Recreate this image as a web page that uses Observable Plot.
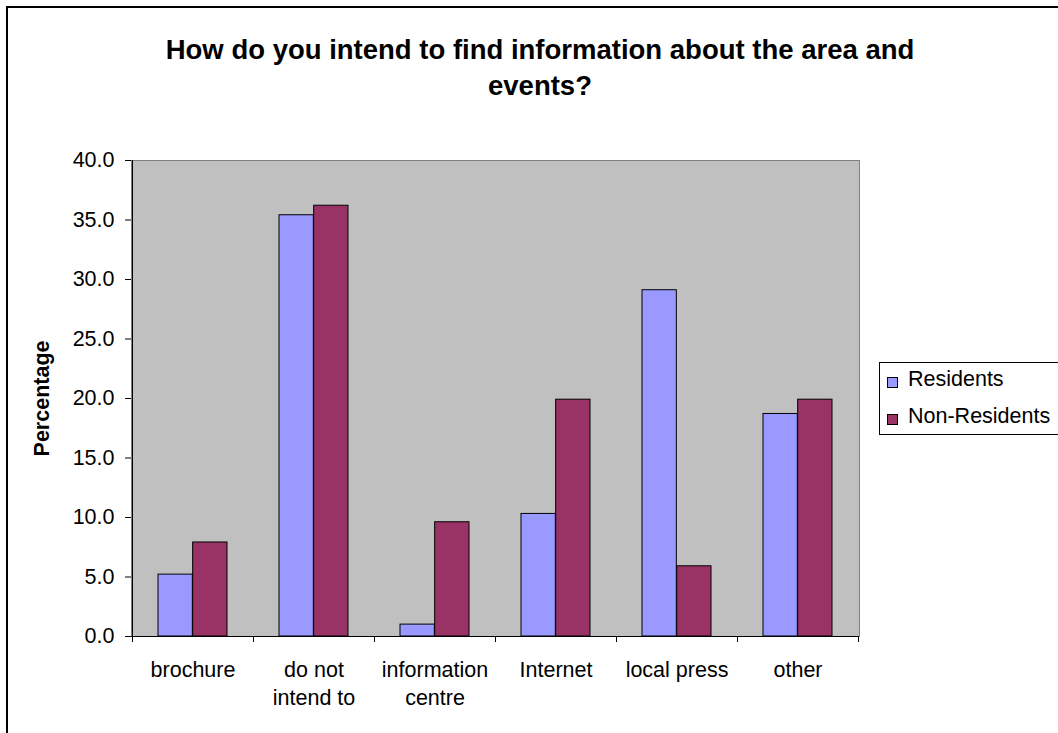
<!DOCTYPE html>
<html><head><meta charset="utf-8">
<script src="https://cdn.jsdelivr.net/npm/d3@7"></script>
<script src="https://cdn.jsdelivr.net/npm/@observablehq/plot@0.6"></script>
<style>
body{margin:0;width:1058px;height:733px;overflow:hidden;background:#fff;font-family:"Liberation Sans",Arial,sans-serif;position:relative}
#border{position:absolute;left:6px;top:6px;width:1100px;height:800px;border:2px solid #000;box-sizing:border-box}
#title{position:absolute;left:0;width:1080px;top:32px;text-align:center;font-weight:bold;font-size:27.5px;line-height:36px;color:#000}
#chart{position:absolute;left:0;top:110px}
#legend{position:absolute;left:879px;top:362px;width:200px;height:73px;border:1px solid #000;background:#fff;box-sizing:border-box}
.item{position:absolute;left:7px;font-size:21.5px;line-height:24px;white-space:nowrap;color:#000}
.sw{display:inline-block;width:9px;height:9px;border:1px solid #000;margin-right:10px;vertical-align:-2px}
</style></head>
<body>
<div id="border"></div>
<div id="title">How do you intend to find information about the area and<br>events?</div>
<div id="chart"></div>
<div id="legend"></div>
<script>
const categories = ["brochure", "do not intend to", "information centre", "Internet", "local press", "other"];
const categoryLabels = ["brochure", "do not\nintend to", "information\ncentre", "Internet", "local press", "other"];
const series = ["Residents", "Non-Residents"];
const residents = [5.2, 35.4, 1.0, 10.3, 29.1, 18.7];
const nonResidents = [7.9, 36.2, 9.6, 19.9, 5.9, 19.9];
const colors = ["#9999FF", "#993366"];
const yTicks = [0, 5, 10, 15, 20, 25, 30, 35, 40];

const W = 1058, H = 623, mL = 131, mR = 199, mT = 50, mB = 97;
const bw = (W - mL - mR) / categories.length;
const outerInset = 26;
const FS = 21.5;

const resData = categories.map((c, i) => ({category: c, value: residents[i]}));
const nonData = categories.map((c, i) => ({category: c, value: nonResidents[i]}));
const labelData = categories.map((c, i) => ({category: c, label: categoryLabels[i]}));

const boundaryTicks = (index, scales, values, dims) => {
  const g = d3.create("svg:g").attr("stroke", "#000").attr("stroke-width", 1);
  const x = scales.x, y0 = scales.y(0);
  const xs = categories.map(c => x(c)).concat([x(categories[categories.length - 1]) + x.bandwidth()]);
  for (const xx of xs) {
    g.append("line").attr("x1", Math.round(xx) + 0.5).attr("x2", Math.round(xx) + 0.5)
      .attr("y1", y0).attr("y2", y0 + 6);
  }
  const xl = Math.round(x(categories[0])) + 0.5;
  g.append("line").attr("x1", xl).attr("x2", xl).attr("y1", scales.y(40)).attr("y2", y0);
  return g.node();
};

const chart = Plot.plot({
  width: W, height: H,
  marginLeft: mL, marginRight: mR, marginTop: mT, marginBottom: mB,
  style: {fontFamily: "'Liberation Sans', Arial, sans-serif", fontSize: FS + "px", background: "transparent", color: "#000"},
  x: {domain: categories, padding: 0, axis: null},
  y: {domain: [0, 40], axis: null},
  marks: [
    Plot.frame({fill: "#C0C0C0", stroke: "#808080"}),
    Plot.barY(resData, {x: "category", y: "value", fill: colors[0], stroke: "#000", strokeWidth: 1,
      insetLeft: outerInset, insetRight: bw / 2}),
    Plot.barY(nonData, {x: "category", y: "value", fill: colors[1], stroke: "#000", strokeWidth: 1,
      insetLeft: bw / 2, insetRight: outerInset}),
    Plot.ruleY([0], {stroke: "#000"}),
    Plot.axisY({ticks: yTicks, tickFormat: d3.format(".1f"), tickSize: 6, tickPadding: 11, fontSize: FS, label: null, stroke: "#000"}),
    boundaryTicks,
    Plot.text(labelData, {x: "category", y: () => 0, text: "label", lineAnchor: "top", dy: 21, lineHeight: 1.3, fontSize: FS, fill: "#000"}),
    Plot.text(["Percentage"], {frameAnchor: "left", textAnchor: "middle", dx: -89, rotate: -90, fontWeight: "bold", fontSize: FS, fill: "#000"})
  ]
});
document.getElementById("chart").appendChild(chart);

const legend = document.getElementById("legend");
series.forEach((s, i) => {
  const d = document.createElement("div");
  d.className = "item";
  d.style.top = (3.5 + i * 37) + "px";
  d.innerHTML = `<span class="sw" style="background:${colors[i]}"></span>${s}`;
  legend.appendChild(d);
});
</script>
</body></html>
